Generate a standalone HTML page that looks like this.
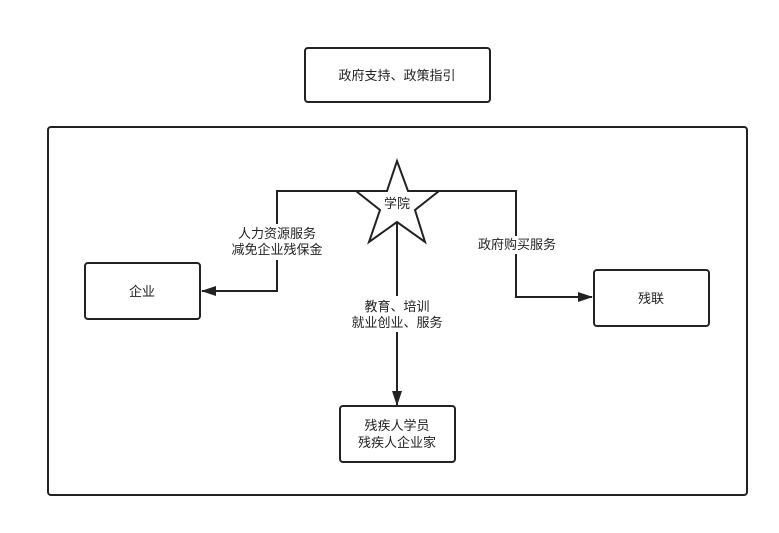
<!DOCTYPE html>
<html><head><meta charset="utf-8"><style>
body{margin:0;background:#fff;}
svg text{font-family:"Liberation Sans","Noto Sans CJK SC",sans-serif;font-size:13px;fill:#222;}
</style></head><body>
<svg width="779" height="528" viewBox="0 0 779 528" xmlns="http://www.w3.org/2000/svg">
<defs><marker id="a" markerWidth="15" markerHeight="10" refX="14" refY="5" orient="auto" markerUnits="userSpaceOnUse"><path d="M0,0 L15,5 L0,10 Z" fill="#222"/></marker></defs>
<g fill="#fff" stroke="#222" stroke-width="2">
<rect x="305" y="48" width="185" height="54" rx="3"/>
<rect x="48" y="127" width="699" height="368" rx="3"/>
<rect x="85" y="263" width="115" height="56" rx="3"/>
<rect x="594" y="270" width="115" height="56" rx="3"/>
<rect x="340" y="406" width="115" height="56" rx="3"/>
</g>
<g fill="none" stroke="#222" stroke-width="2">
<polyline points="356,191 277,191 277,291 202,291" marker-end="url(#a)"/>
<polyline points="439,191 516,191 516,297 592,297" marker-end="url(#a)"/>
<line x1="397" y1="222" x2="397" y2="405" marker-end="url(#a)"/>
</g>
<polygon points="397,161 408,191 439,191 415,210 425,242 397,222 369,242 380,210 356,191 387,191" fill="#fff" stroke="#222" stroke-width="2"/>
<rect x="230" y="224" width="94" height="36" fill="#fff"/>
<rect x="476" y="236" width="82" height="18" fill="#fff"/>
<rect x="348" y="296" width="98" height="36" fill="#fff"/>
<g text-anchor="middle">
<text x="397" y="80">政府支持、政策指引</text>
<text x="397" y="208">学院</text>
<text x="277" y="238">人力资源服务</text>
<text x="277" y="254">减免企业残保金</text>
<text x="517" y="249">政府购买服务</text>
<text x="397" y="311">教育、培训</text>
<text x="397" y="327">就业创业、服务</text>
<text x="142" y="296">企业</text>
<text x="651" y="303">残联</text>
<text x="397" y="430">残疾人学员</text>
<text x="397" y="447">残疾人企业家</text>
</g>
</svg>
</body></html>
